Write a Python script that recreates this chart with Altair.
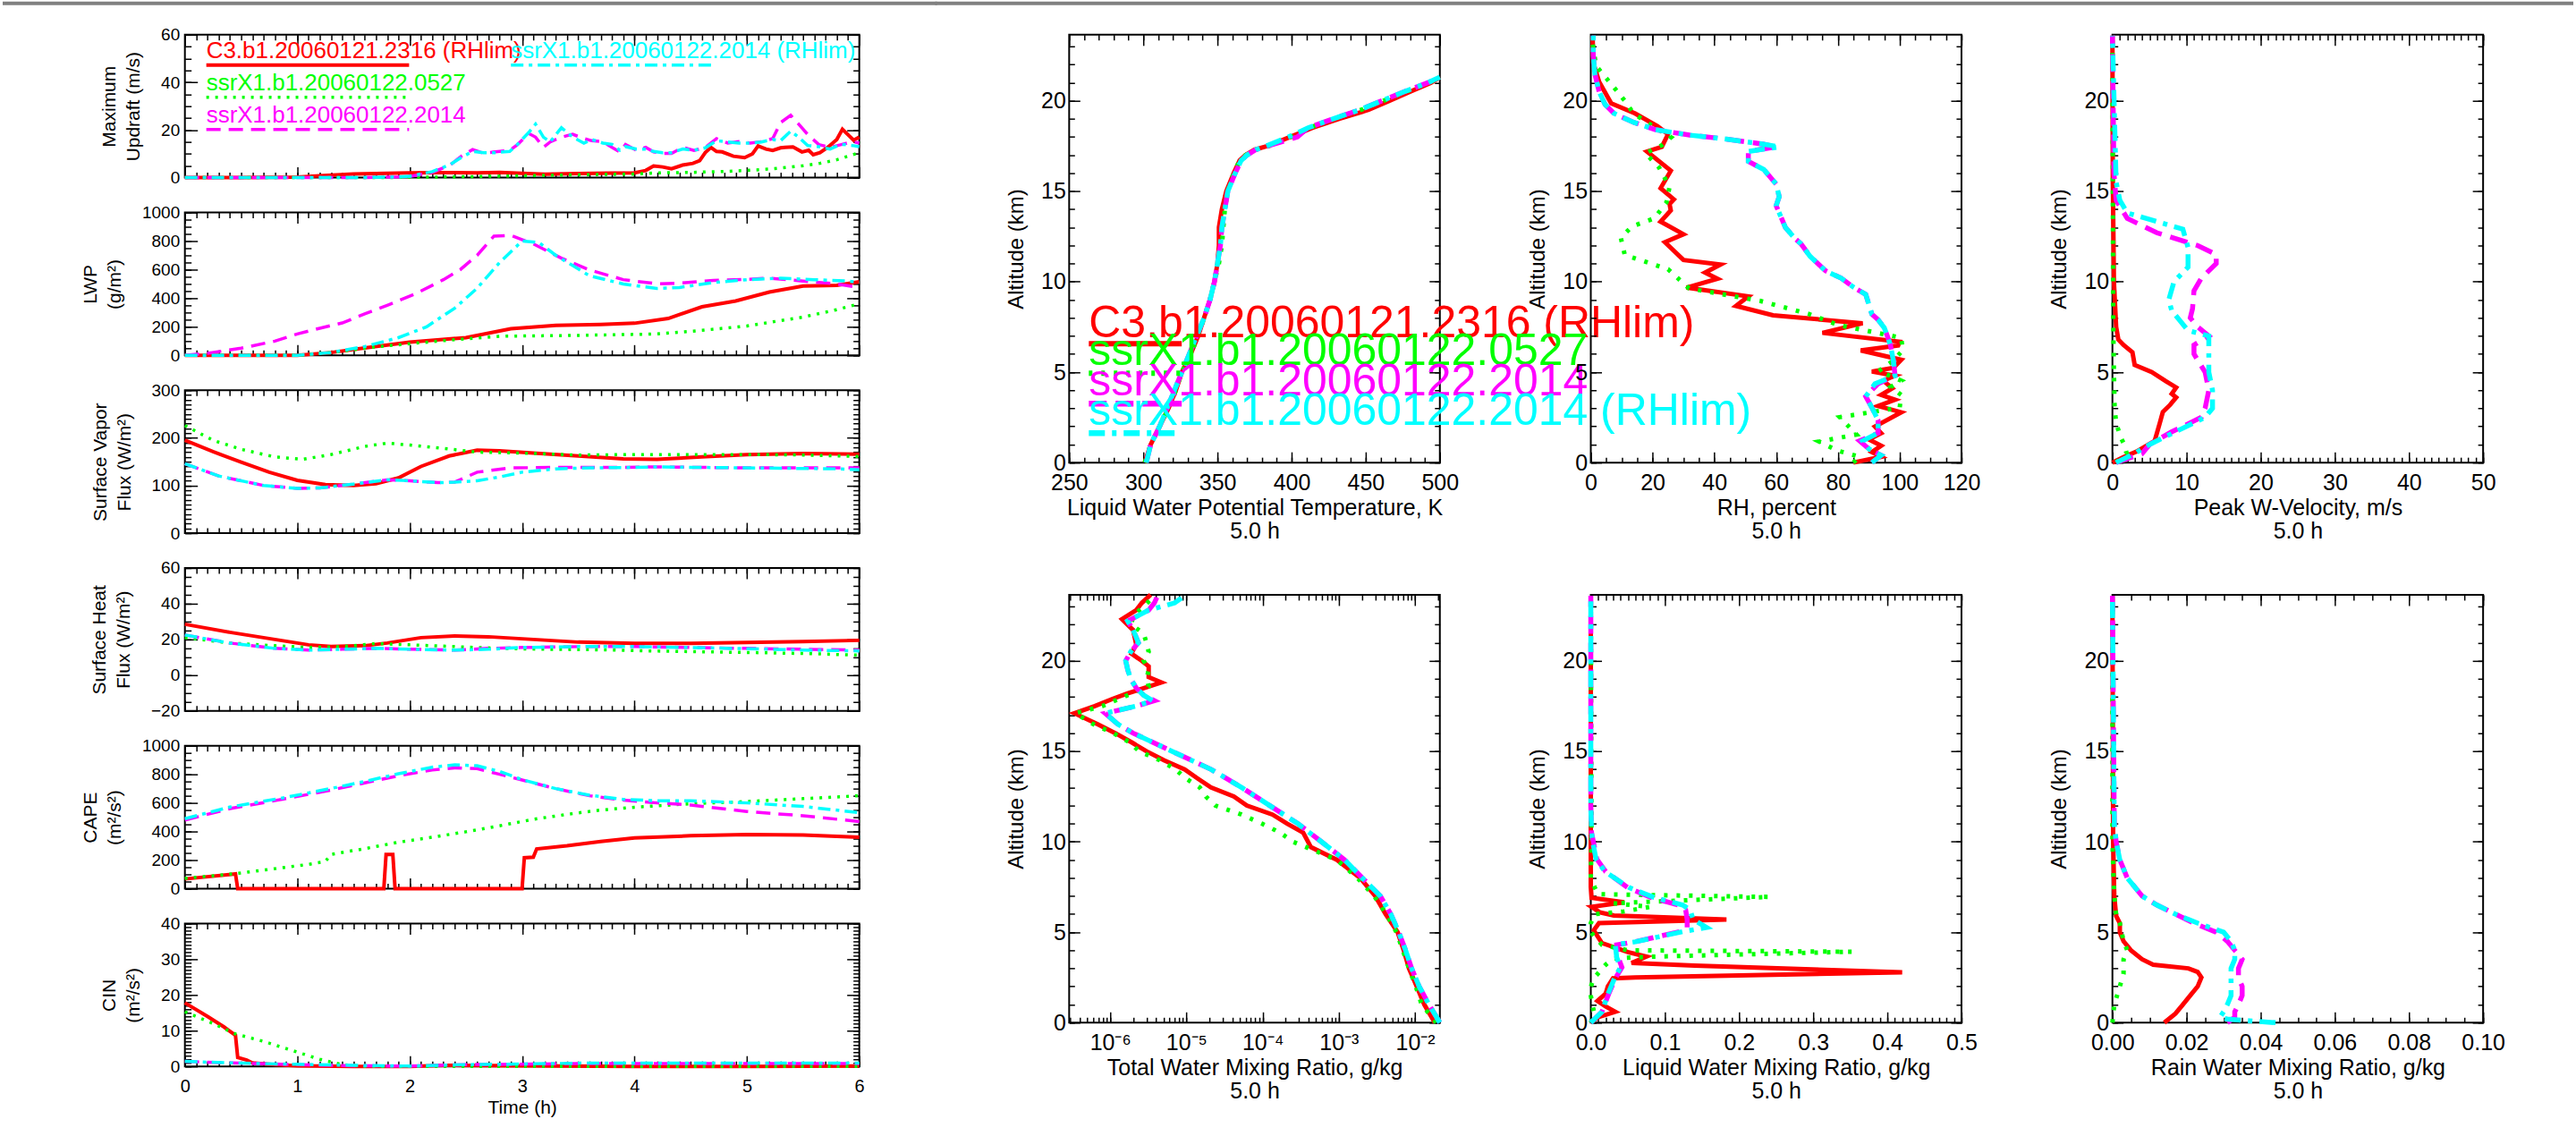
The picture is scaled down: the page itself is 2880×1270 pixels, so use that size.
import altair as alt
import pandas as pd

FONT = "Liberation Sans"
NAMES = ["C3.b1.20060121.2316 (RHlim)", "ssrX1.b1.20060122.0527",
         "ssrX1.b1.20060122.2014", "ssrX1.b1.20060122.2014 (RHlim)"]
COLORS = ["#ff0000", "#00ff00", "#ff00ff", "#00ffff"]

# ---------------- time series (time in hours) ----------------
UPD_T_RED = [0, 0.5, 1.0, 1.2, 1.5, 1.8, 2.0, 2.3, 2.6, 2.8, 3.0, 3.2, 3.5, 3.8, 4.0, 4.1, 4.17, 4.25, 4.33, 4.43,
             4.52, 4.58, 4.63, 4.68, 4.73, 4.78, 4.88, 4.98, 5.05, 5.1, 5.17, 5.23, 5.3, 5.34, 5.41, 5.49, 5.55,
             5.59, 5.65, 5.72, 5.8, 5.85, 5.9, 5.95, 6.0]
UPD_RED = [0, 0, 0.2, 0.8, 1.5, 1.8, 2.0, 2.1, 2.0, 2.2, 1.8, 1.4, 1.7, 1.9, 2.0, 3.0, 4.9, 4.5, 3.7, 5.3,
           6.0, 7.1, 10.5, 12.7, 11.0, 10.8, 9.0, 8.4, 10.0, 13.3, 12.0, 11.4, 12.5, 12.7, 12.9, 10.8, 11.5,
           9.6, 10.5, 12.7, 16.0, 20.3, 18.0, 15.7, 17.0]
UPD_T_GRN = [0, 1.5, 2.0, 2.5, 3.0, 3.5, 4.0, 4.2, 4.5, 4.8, 5.0, 5.2, 5.4, 5.5, 5.65, 5.8, 5.9, 6.0]
UPD_GRN = [0, 0, 0.1, 0.4, 0.8, 1.2, 1.5, 2.0, 2.2, 2.6, 3.0, 3.6, 4.5, 5.0, 6.0, 7.5, 9.0, 10.5]
UPD_T_MC = [0, 1.5, 1.9, 2.0, 2.2, 2.36, 2.46, 2.56, 2.66, 2.76, 2.89, 2.96, 3.06, 3.12, 3.19, 3.25, 3.35, 3.45,
            3.55, 3.62, 3.72, 3.8, 3.87, 3.92, 4.02, 4.1, 4.17, 4.25, 4.33, 4.43, 4.53, 4.63, 4.73, 4.83, 4.93,
            5.03, 5.13, 5.23, 5.3, 5.39, 5.46, 5.54, 5.64, 5.74, 5.84, 5.94, 6.0]
UPD_MAG = [0, 0, 0.3, 0.5, 2.2, 5.3, 9.0, 11.8, 10.2, 10.8, 11.4, 13.9, 18.5, 17.0, 12.7, 15.0, 17.0, 18.2,
           16.4, 15.5, 15.1, 12.7, 10.8, 13.9, 11.4, 12.7, 10.8, 10.2, 10.2, 12.7, 11.4, 12.7, 16.4, 14.5, 15.1,
           14.5, 15.1, 16.4, 23.1, 26.2, 22.5, 18.2, 13.9, 12.7, 13.9, 15.1, 14.5]
UPD_CYN = [0, 0, 0.3, 0.6, 2.5, 5.5, 8.5, 11.0, 10.5, 10.5, 11.0, 14.0, 19.0, 22.5, 17.0, 15.0, 21.0, 17.0,
           14.5, 16.0, 14.5, 14.0, 11.5, 13.0, 12.0, 12.0, 11.0, 10.5, 10.5, 12.0, 11.5, 12.5, 15.5, 15.0, 14.5,
           14.5, 15.0, 16.0, 15.5, 19.5, 17.0, 13.5, 13.0, 12.0, 14.0, 13.5, 13.0]

LWP_T_RED = [0, 1.0, 1.3, 1.6, 2.0, 2.5, 2.9, 3.3, 3.7, 4.0, 4.3, 4.6, 4.9, 5.2, 5.5, 5.8, 6.0]
LWP_RED = [0, 0, 20, 52, 93, 124, 186, 210, 216, 225, 258, 340, 381, 443, 485, 490, 515]
LWP_T_GRN = [0, 1.0, 1.3, 1.7, 2.3, 2.8, 3.5, 4.2, 4.6, 5.0, 5.5, 5.8, 6.0]
LWP_GRN = [0, 0, 20, 60, 103, 134, 140, 150, 175, 206, 268, 320, 361]
LWP_T_MAG = [0, 0.2, 0.5, 0.8, 1.0, 1.2, 1.4, 1.6, 1.8, 2.05, 2.3, 2.45, 2.6, 2.75, 2.9, 3.1, 3.35, 3.6, 3.9,
             4.2, 4.4, 4.7, 5.0, 5.2, 5.5, 5.8, 6.0]
LWP_MAG = [0, 15, 50, 100, 150, 190, 227, 290, 350, 430, 530, 600, 700, 835, 840, 780, 680, 598, 530,
           501, 505, 525, 532, 540, 520, 500, 474]
LWP_T_CYN = [0, 1.0, 1.3, 1.6, 1.9, 2.15, 2.4, 2.6, 2.8, 3.0, 3.15, 3.3, 3.6, 3.9, 4.2, 4.4, 4.7, 5.0, 5.3,
             5.6, 5.9, 6.0]
LWP_CYN = [0, 0, 20, 62, 124, 200, 330, 470, 650, 800, 790, 700, 557, 500, 468, 475, 510, 530, 540,
           530, 520, 510]

VAP_T_RED = [0, 0.25, 0.5, 0.75, 1.0, 1.25, 1.5, 1.7, 1.9, 2.1, 2.35, 2.6, 2.8, 3.1, 3.5, 3.9, 4.2, 4.6, 5.0, 5.5, 6.0]
VAP_RED = [195, 171, 149, 128, 111, 102, 100, 104, 116, 140, 162, 174, 173, 168, 162, 156, 155, 160, 165, 167, 166]
VAP_T_GRN = [0, 0.25, 0.5, 0.8, 1.05, 1.3, 1.6, 1.8, 2.0, 2.3, 2.6, 3.0, 3.5, 4.0, 4.5, 5.0, 5.5, 6.0]
VAP_GRN = [226, 195, 176, 160, 155, 165, 182, 189, 185, 178, 170, 168, 164, 165, 165, 165, 164, 161]
VAP_T_MAG = [0, 0.3, 0.7, 1.0, 1.2, 1.5, 1.8, 2.0, 2.25, 2.4, 2.6, 2.9, 3.3, 3.8, 4.2, 5.0, 6.0]
VAP_MAG = [146, 120, 100, 94, 95, 103, 112, 110, 106, 107, 128, 137, 138, 138, 139, 137, 137]
VAP_T_CYN = [0, 0.3, 0.7, 1.0, 1.2, 1.5, 1.8, 2.0, 2.25, 2.4, 2.6, 2.8, 3.0, 3.3, 3.6, 4.0, 4.2, 5.0, 5.8, 6.0]
VAP_CYN = [146, 120, 100, 94, 95, 103, 112, 110, 106, 107, 110, 118, 128, 135, 137, 138, 139, 137, 135, 133]

HFX_T_RED = [0, 0.4, 0.8, 1.1, 1.3, 1.6, 1.8, 2.1, 2.4, 2.7, 3.1, 3.5, 4.0, 4.5, 5.0, 5.5, 6.0]
HFX_RED = [28.5, 24, 20, 17, 16, 16.5, 18, 21, 22, 21.5, 20, 18.5, 17.8, 17.8, 18.3, 18.8, 19.5]
HFX_T_GRN = [0, 0.4, 0.8, 1.1, 1.4, 1.7, 2.0, 2.4, 2.8, 3.2, 3.7, 4.2, 4.7, 5.2, 5.6, 6.0]
HFX_GRN = [21, 18, 16.5, 15.5, 16, 17.7, 17, 16, 15, 14.5, 14.2, 13.5, 13, 12.5, 12, 11.2]
HFX_T_MC = [0, 0.4, 0.8, 1.1, 1.4, 1.7, 2.0, 2.4, 2.7, 3.0, 3.5, 4.0, 4.5, 5.0, 5.5, 6.0]
HFX_MAG = [22.5, 18, 15, 14, 14.5, 15, 14.5, 14, 15, 15.5, 16, 16, 15.5, 15, 14.5, 14]
HFX_CYN = [22.5, 18, 15, 14, 14.5, 15, 14.5, 14, 14.5, 15.5, 16, 16, 15.5, 14.8, 14, 13.6]

CAPE_T_RED = [0, 0.45, 0.47, 1.77, 1.79, 1.85, 1.87, 3.0, 3.02, 3.1, 3.13, 3.4, 3.7, 4.0, 4.5, 5.0, 5.5, 6.0]
CAPE_RED = [68, 103, 0, 0, 240, 240, 0, 0, 216, 220, 278, 300, 330, 355, 370, 378, 375, 360]
CAPE_T_GRN = [0, 0.45, 0.8, 1.1, 1.25, 1.3, 1.6, 1.9, 2.2, 2.5, 2.8, 3.1, 3.4, 3.7, 4.0, 4.5, 5.0, 5.5, 6.0]
CAPE_GRN = [72, 105, 140, 170, 190, 240, 280, 325, 360, 398, 440, 485, 520, 550, 570, 594, 610, 630, 650]
CAPE_T_MC = [0, 0.4, 0.9, 1.3, 1.6, 1.9, 2.2, 2.4, 2.6, 2.8, 3.0, 3.3, 3.6, 3.9, 4.2, 4.5, 5.0, 5.5, 6.0]
CAPE_MAG = [480, 560, 630, 690, 740, 790, 830, 845, 840, 800, 760, 700, 650, 620, 600, 585, 540, 510, 470]
CAPE_CYN = [490, 571, 639, 701, 750, 804, 850, 866, 860, 820, 763, 700, 654, 625, 615, 615, 600, 575, 532]

CIN_T_RED = [0, 0.2, 0.35, 0.45, 0.47, 0.55, 0.6, 0.8, 1.0, 1.5, 2.0, 2.3, 3.0, 4.0, 5.0, 6.0]
CIN_RED = [17.8, 14, 11, 8.7, 2.5, 1.8, 1.0, 0.5, 0.2, 0, 0, 0.3, 0.2, 0, 0, 0.1]
CIN_T_GRN = [0, 0.25, 0.45, 0.7, 0.95, 1.2, 1.4, 1.6, 2.0, 3.0, 4.0, 5.0, 6.0]
CIN_GRN = [15.3, 12, 9.1, 7, 4.5, 2, 0.5, 0, 0, 0, 0, 0, 0]
CIN_T_MC = [0, 0.5, 1.0, 1.5, 2.0, 2.5, 3.5, 6.0]
CIN_MAG = [1.4, 0.9, 0.5, 0.2, 0.1, 0.5, 0.8, 0.8]
CIN_CYN = [1.4, 0.9, 0.6, 0.3, 0.1, 0.5, 0.9, 0.9]

# ---------------- profiles at 5.0 h (altitude in km) ----------------
TH_ALT = [0, 1, 2, 3, 4, 5, 6, 7, 8, 9, 10, 11, 12, 13, 14, 15, 16, 16.7, 17.0, 17.3, 17.5, 18.0, 18.5,
          19.0, 19.5, 20.0, 20.5, 21.0, 21.3]
TH_RED = [301, 305, 311, 317, 322, 326, 332, 337, 341, 345, 348, 350, 351, 351, 353, 356, 361, 365, 369,
          375, 384, 399, 414, 432, 452, 466, 480, 494, 500]
TH_GRN = [301, 305, 311, 317, 322, 326, 332, 337, 341, 345, 348, 351, 353, 354, 355, 357, 361, 365, 369,
          376, 385, 400, 412, 428, 447, 462, 477, 493, 500]
TH_MAG = [302, 305, 311, 316, 321, 326, 331, 336, 341, 345, 348, 350, 352, 353, 355, 357, 362, 366, 370,
          376, 384, 404, 411, 428, 446, 461, 476, 492, 500]
TH_CYN = [302, 305, 311, 316, 321, 326, 331, 336, 341, 345, 348, 350, 352, 353, 355, 357, 362, 366, 370,
          376, 383, 398, 411, 428, 446, 461, 476, 492, 500]

RH_ALT_RED = [0, 0.32, 0.58, 0.93, 1.28, 1.63, 1.99, 2.78, 3.13, 3.48, 3.74, 4.1, 4.53, 4.8, 5.03, 5.24,
              5.68, 6.2, 6.47, 6.68, 7.17, 7.7, 8.14, 8.66, 9.19, 9.67, 10.16, 10.5, 10.95, 11.2, 12.18,
              12.62, 13.32, 13.94, 14.29, 14.55, 15.17, 16.13, 17.19, 17.45, 18.15, 18.59, 19.3, 19.86,
              21.05, 22.1, 23.5]
RH_RED = [85, 94, 91, 94, 90, 94, 92, 100.5, 93, 98.5, 94, 97.6, 94.7, 98.5, 91, 98, 100.5, 87.4, 99.5,
          100, 75, 88, 59, 47, 51, 31, 41, 37, 42, 30, 24, 30, 22.6, 25.9, 25.5, 26.9, 22.6, 25.9, 18.2,
          23, 25, 21.6, 14.3, 6.6, 2.7, 0.8, 0.6]
RH_ALT_GRN = [0, 0.32, 0.67, 1.16, 1.55, 2.51, 3.04, 3.74, 4.18, 4.53, 5.06, 5.59, 6.2, 6.9, 7.6, 8.22,
              8.93, 9.63, 10.69, 11.48, 12.44, 13.06, 13.5, 14.38, 15.25, 16.31, 17.1, 17.54, 17.98, 18.6,
              19.3, 19.91, 20.53, 21.23, 21.93, 23.5]
RH_GRN = [85, 87, 79.7, 73.9, 86, 80.6, 100, 100.5, 97.1, 100.5, 93.2, 97.6, 101, 100.5, 80.2, 70.5, 55,
          31.8, 25, 11, 9.7, 13.4, 20.6, 24.5, 25.5, 22.1, 17.7, 23, 26, 20.1, 13.8, 11.4, 8.5, 5.1, 1.7, 0.3]
RH_ALT_MC = [0, 0.4, 0.76, 1.2, 1.63, 2.34, 3.04, 3.66, 4.36, 4.8, 5.6, 6.5, 7.0, 7.45, 7.9, 8.2, 8.75,
             9.3, 9.7, 10.2, 10.6, 11.4, 12.1, 12.4, 13.0, 14.2, 14.7, 15.4, 16.2, 16.65, 17.2, 17.45, 17.6,
             17.9, 18.1, 18.4, 18.8, 19.3, 19.8, 20.5, 21.5, 22.5, 23.6]
RH_MAG = [91, 94, 90, 87, 93, 93, 91, 89, 93, 98.5, 98, 97, 96, 95, 93, 91, 90, 89, 85, 81, 76, 71, 68,
          66, 63, 60, 61, 60, 56, 51, 51, 60, 56, 43, 32, 21, 14, 7.5, 4.6, 2.7, 1.3, 0.8, 0.8]
RH_CYN = [91, 94, 90, 88, 93, 93, 91, 89, 92, 98.5, 98, 97, 96, 95, 93, 91, 90, 89, 85, 81, 76, 71, 68,
          66, 63, 60, 61, 60, 56, 51, 51, 61, 56, 43, 32, 21, 14, 7.5, 4.6, 2.7, 1.3, 0.8, 0.8]

W_ALT_RED = [0, 0.3, 0.64, 1.2, 2.2, 2.8, 3.2, 3.6, 3.8, 4.15, 4.5, 5.0, 5.4, 6.1, 6.5, 6.8, 7.5, 10,
             15.8, 23.6]
W_RED = [0, 1.5, 3.4, 5.7, 6.4, 6.8, 7.8, 8.6, 8.0, 8.6, 7.2, 5.3, 3.0, 2.7, 1.5, 0.8, 0.5, 0.2, 0.05, 0.0]
W_ALT_GRN = [0, 0.55, 1.0, 1.4, 2.2, 3.0, 5.0, 8.0, 23.6]
W_GRN = [0.5, 1.9, 1.6, 1.1, 0.5, 0.3, 0.2, 0.1, 0.0]
W_ALT_MAG = [0, 0.5, 1.0, 1.7, 2.5, 3.0, 4.0, 5.0, 6.0, 6.5, 7.0, 7.5, 8.0, 8.5, 9.5, 10.2, 11.0, 11.5,
             12.0, 12.7, 13.5, 14.5, 16, 23.6]
W_MAG = [0.5, 4, 5, 8, 12, 12.5, 13, 12.5, 11, 11, 13, 11.5, 10.5, 10.8, 11, 12, 14, 14, 11.5, 6, 2, 0.5,
         0.2, 0]
W_ALT_CYN = [0, 0.5, 1.0, 1.7, 2.5, 3.0, 4.0, 5.0, 6.0, 7.0, 7.3, 8.4, 9.0, 10.0, 10.8, 11.9, 12.9, 13.8,
             14.5, 15.5, 23.6]
W_CYN = [0.5, 3, 5, 8.5, 12.5, 13.5, 13.5, 13, 13, 13, 10.2, 8.0, 7.6, 8.3, 10.2, 10.2, 9.5, 2, 1, 0.5, 0]

TW_ALT_RED = [0, 1, 2, 3, 4, 5, 6, 7, 8, 9, 9.7, 10.5, 11.0, 11.5, 12.0, 12.5, 13.0, 13.5, 14.0, 14.5,
              15.0, 15.5, 16.0, 16.5, 17.1, 17.5, 17.9, 18.2, 18.8, 19.1, 19.7, 20.0, 20.4, 20.9, 21.7,
              22.3, 22.8, 23.2, 23.65]
TW_RED = [0.0181, 0.0132, 0.0105, 0.0083, 0.0071, 0.0059, 0.0041, 0.0030, 0.0019, 9.4e-4, 4.3e-4, 3.4e-4,
          2.1e-4, 1.35e-4, 6.2e-5, 4.2e-5, 2.1e-5, 1.4e-5, 9.5e-6, 5.1e-6, 3.0e-6, 1.9e-6, 1.17e-6, 6.8e-7,
          3.4e-7, 6.3e-7, 1.08e-6, 1.7e-6, 4.7e-6, 3.2e-6, 3.2e-6, 2.6e-6, 1.9e-6, 2.2e-6, 2.0e-6, 1.43e-6,
          2.2e-6, 2.6e-6, 3.4e-6]
TW_ALT_GRN = [0, 1, 2, 3, 4, 5, 6, 7, 8, 9, 10, 10.5, 11, 11.5, 12, 12.5, 13, 13.5, 14, 14.5, 15, 15.5,
              16, 16.5, 17.1, 17.5, 18, 18.6, 19, 19.5, 20, 20.5, 21, 21.5, 22, 22.5, 23, 23.6]
TW_GRN = [0.0189, 0.0122, 0.0102, 0.0083, 0.0069, 0.0057, 0.0042, 0.0029, 0.00175, 9.4e-4, 2.5e-4, 1.7e-4,
          9.8e-5, 5.3e-5, 2.4e-5, 1.8e-5, 1.5e-5, 9.8e-6, 7.2e-6, 4.5e-6, 2.4e-6, 1.8e-6, 1.1e-6, 6.0e-7,
          3.5e-7, 7.9e-7, 1.5e-6, 3.2e-6, 3.0e-6, 3.2e-6, 2.75e-6, 3.2e-6, 3.0e-6, 2.75e-6, 1.9e-6, 2.0e-6,
          2.75e-6, 3.8e-6]
TW_ALT_MC = [0, 1, 2, 3, 4, 5, 6, 7, 8, 9, 10, 11, 12, 13, 14, 15, 16, 16.5, 17.1, 17.5, 17.8, 18.1, 18.5,
             19.0, 19.5, 20.0, 20.5, 21.0, 21.7, 22.2, 22.8, 23.2, 23.6]
TW_MAG = [0.0211, 0.0152, 0.0113, 0.0090, 0.0075, 0.0061, 0.0048, 0.0035, 0.00203, 0.00119, 5.9e-4, 2.9e-4,
          1.24e-4, 5.3e-5, 2.1e-5, 6.5e-6, 2.0e-6, 1.26e-6, 8.6e-7, 2.2e-6, 3.8e-6, 2.75e-6, 2.2e-6, 1.86e-6,
          1.7e-6, 1.6e-6, 1.86e-6, 2.35e-6, 2.0e-6, 1.7e-6, 3.2e-6, 3.8e-6, 4.2e-6]
TW_CYN = [0.0211, 0.0152, 0.0113, 0.0090, 0.0075, 0.0061, 0.0048, 0.0035, 0.00203, 0.00119, 5.9e-4, 2.9e-4,
          1.24e-4, 5.3e-5, 2.1e-5, 6.5e-6, 2.0e-6, 1.26e-6, 8.6e-7, 2.2e-6, 3.6e-6, 2.75e-6, 2.2e-6, 1.86e-6,
          1.7e-6, 1.6e-6, 1.86e-6, 2.35e-6, 2.0e-6, 1.7e-6, 3.2e-6, 7.0e-6, 9.5e-6]

LW_ALT_RED = [0, 0.3, 0.6, 0.9, 1.2, 1.6, 2.0, 2.45, 2.5, 2.78, 3.15, 3.3, 3.65, 3.9, 4.4, 5.1, 5.5, 5.7,
              5.92, 6.1, 6.4, 6.65, 6.9, 7.5, 23.6]
LW_RED = [0, 0.01, 0.033, 0.02, 0.009, 0.02, 0.023, 0.03, 0.06, 0.42, 0.14, 0.055, 0.075, 0.05, 0.015,
          0.004, 0.011, 0.183, 0.031, 0.012, 0.001, 0.045, 0.001, 0.0, 0.0]
LW_ALT_GRN = [0, 0.5, 1.0, 1.5, 2.0, 2.5, 3.2, 3.55, 3.65, 3.92, 4.0, 4.3, 5.0, 5.5, 6.0, 6.15, 6.4, 6.6,
              6.95, 7.1, 7.5, 8.0, 10, 23.6]
LW_GRN = [0, 0.005, 0.002, 0.0, 0.0, 0.005, 0.02, 0.03, 0.085, 0.352, 0.05, 0.015, 0.0, 0.0, 0.005, 0.045,
          0.08, 0.03, 0.241, 0.01, 0.005, 0.0, 0.001, 0.0]
LW_ALT_MC = [0, 0.6, 1.57, 2.45, 3.06, 3.6, 4.3, 4.47, 5.03, 5.26, 5.7, 6.23, 6.5, 6.94, 7.46, 8.35, 9.05,
             9.9, 10.5, 12, 23.6]
LW_MAG = [0, 0.015, 0.024, 0.033, 0.042, 0.037, 0.035, 0.06, 0.12, 0.13, 0.13, 0.128, 0.118, 0.08, 0.05,
          0.02, 0.008, 0.004, 0.001, 0.0, 0.0]
LW_CYN = [0, 0.015, 0.023, 0.032, 0.04, 0.035, 0.033, 0.06, 0.124, 0.156, 0.138, 0.134, 0.124, 0.084,
          0.052, 0.019, 0.007, 0.003, 0.001, 0.0, 0.0]

RW_ALT_RED = [0, 0.5, 1.0, 1.5, 2.0, 2.5, 2.8, 3.0, 3.2, 3.5, 4.0, 4.5, 5.0, 5.5, 5.9, 7, 10, 23.6]
RW_RED = [0.014, 0.017, 0.019, 0.021, 0.023, 0.024, 0.023, 0.0205, 0.011, 0.008, 0.005, 0.003, 0.002,
          0.002, 0.001, 0.0005, 0.0002, 0.0]
RW_ALT_GRN = [0, 1, 2, 2.7, 3.5, 4.0, 4.5, 5.5, 6, 7, 8, 10, 23.6]
RW_GRN = [0.0, 0.0005, 0.002, 0.003, 0.003, 0.004, 0.003, 0.002, 0.001, 0.0005, 0.0003, 0.0, 0.0]
RW_ALT_MAG = [0, 0.3, 0.6, 1.0, 1.5, 2.0, 2.5, 3.0, 3.5, 4.0, 4.5, 5.0, 5.5, 6.0, 6.5, 7.0, 7.5, 8.0, 8.5,
              9.0, 10.0, 11, 23.6]
RW_MAG = [0.031, 0.033, 0.033, 0.034, 0.035, 0.035, 0.034, 0.034, 0.035, 0.033, 0.031, 0.028, 0.022, 0.017,
          0.012, 0.008, 0.006, 0.004, 0.003, 0.002, 0.001, 0.0005, 0.0]
RW_ALT_CYN = [0, 0.1, 0.2, 0.3, 0.6, 1.0, 1.5, 2.0, 2.5, 3.0, 3.5, 4.0, 4.5, 5.0, 5.5, 6.0, 6.5, 7.0, 7.5,
              8.0, 8.5, 9.0, 10.0, 11, 23.6]
RW_CYN = [0.044, 0.037, 0.031, 0.029, 0.03, 0.031, 0.032, 0.032, 0.032, 0.032, 0.033, 0.033, 0.032, 0.03,
          0.023, 0.017, 0.012, 0.008, 0.006, 0.004, 0.003, 0.002, 0.001, 0.0005, 0.0]

# ---------------- tick values ----------------
T_MAJ = [0, 1, 2, 3, 4, 5, 6]
T_MIN = [round(i * 0.1, 1) for i in range(61)]
ALT_MAJ = [0, 5, 10, 15, 20]
ALT_MIN = list(range(0, 24))
LOG_MAJ = [1e-6, 1e-5, 1e-4, 1e-3, 1e-2]
LOG_MIN = [m * 10.0 ** e for e in range(-7, -1) for m in range(1, 10) if 2.9e-7 <= m * 10.0 ** e <= 2.11e-2]

LEFT_STYLE = [{"strokeWidth": 4}, {"strokeWidth": 3.5, "strokeDash": [3, 7]},
              {"strokeWidth": 3.5, "strokeDash": [16, 9]}, {"strokeWidth": 3.5, "strokeDash": [14, 6, 4, 6]}]
RIGHT_STYLE = [{"strokeWidth": 5}, {"strokeWidth": 5, "strokeDash": [4, 10]},
               {"strokeWidth": 5.5, "strokeDash": [20, 10]}, {"strokeWidth": 5.5, "strokeDash": [18, 8, 5, 8]}]


def tick_axis(orient, values, size):
    return alt.Axis(orient=orient, values=values, tickSize=size, offset=-size, domain=False, grid=False,
                    labels=False, title=None, tickColor="black", tickWidth=1.5)


def main_axis(orient, values, size, labels, title, lsize, tsize, lpad, tpad, lh, fmt=None, expr=None):
    kw = dict(orient=orient, values=values, tickSize=size, offset=-size, domain=False, grid=False,
              labels=labels, title=title, tickColor="black", tickWidth=1.5, labelFontSize=lsize,
              titleFontSize=tsize, labelPadding=lpad, titlePadding=tpad, labelFlush=False,
              labelOverlap=False, titleLineHeight=lh, labelFont=FONT, titleFont=FONT,
              titleFontWeight="normal", labelColor="black", titleColor="black")
    if fmt is not None:
        kw["format"] = fmt
    if expr is not None:
        kw["labelExpr"] = expr
    return alt.Axis(**kw)


def panel(series, xdom, ydom, xaxes, yaxes, w, h, style, xtype="linear", profile=False, extra=()):
    xsc = alt.Scale(domain=xdom, nice=False, zero=False, type=xtype)
    ysc = alt.Scale(domain=ydom, nice=False, zero=False)
    layers = []
    for k, (xs, ys) in enumerate(series):
        df = pd.DataFrame({"x": xs, "y": ys, "i": list(range(len(xs)))})
        enc = {"x": alt.X("x:Q", scale=xsc, axis=xaxes[k]), "y": alt.Y("y:Q", scale=ysc, axis=yaxes[k])}
        if profile:
            enc["order"] = alt.Order("i:Q")
        layers.append(alt.Chart(df).mark_line(color=COLORS[k], **style[k]).encode(**enc))
    return (alt.layer(*layers, *extra)
            .resolve_axis(x="independent", y="independent")
            .properties(width=w, height=h))


LW, LH = 755, 160
RW, RH = 415, 479


def left_panel(series, ydom, ymaj, ymin, ytitle, bottom=False, extra=()):
    xaxes = [main_axis("bottom", T_MAJ, 12, bottom, "Time (h)" if bottom else None, 20, 21, 12, 3, 24, fmt="d"),
             tick_axis("top", T_MAJ, 12), tick_axis("bottom", T_MIN, 6), tick_axis("top", T_MIN, 6)]
    yaxes = [main_axis("left", ymaj, 14, True, ytitle, 19, 21, 6, 20, 27, fmt="d"),
             tick_axis("right", ymaj, 14), tick_axis("left", ymin, 7), tick_axis("right", ymin, 7)]
    return panel(series, [0, 6], ydom, xaxes, yaxes, LW, LH, LEFT_STYLE, extra=extra)


def right_panel(series, xdom, xmaj, xmin, xtitle, xtype="linear", fmt=None, expr=None, extra=()):
    xaxes = [main_axis("bottom", xmaj, 12, True, [xtitle, "5.0 h"], 25, 25, 10, 3, 26, fmt=fmt, expr=expr),
             tick_axis("top", xmaj, 12), tick_axis("bottom", xmin, 6), tick_axis("top", xmin, 6)]
    yaxes = [main_axis("left", ALT_MAJ, 12, True, "Altitude (km)", 25, 24, 4, 15, 26, fmt="d"),
             tick_axis("right", ALT_MAJ, 12), tick_axis("left", ALT_MIN, 6), tick_axis("right", ALT_MIN, 6)]
    return panel(series, xdom, [0, 23.65], xaxes, yaxes, RW, RH, RIGHT_STYLE, xtype=xtype, profile=True,
                 extra=extra)


def legend_layers(positions, fsize, style_list, width_scale):
    out = []
    for k, (tx, ty, x1, x2, ly) in enumerate(positions):
        lab = pd.DataFrame({"label": [NAMES[k]]})
        out.append(alt.Chart(lab).mark_text(align="left", baseline="alphabetic", font=FONT, fontSize=fsize,
                                            color=COLORS[k])
                   .encode(text="label:N", x=alt.value(tx), y=alt.value(ty)))
        st = dict(style_list[k])
        st["strokeWidth"] = st["strokeWidth"] * width_scale
        out.append(alt.Chart(lab).mark_rule(color=COLORS[k], **st)
                   .encode(x=alt.value(x1), x2=alt.value(x2), y=alt.value(ly)))
    return out


def gray_bar(x1, x2):
    return alt.Chart(pd.DataFrame({"label": ["frame"]})).mark_rule(color="#808080", strokeWidth=4).encode(
        x=alt.value(x1), x2=alt.value(x2), y=alt.value(-35))


small_leg = legend_layers([(24, 26, 24, 251, 34), (24, 62, 24, 251, 70), (24, 98, 24, 251, 106),
                           (365, 26, 365, 591, 34)], 26, LEFT_STYLE, 1.0)
big_leg = legend_layers([(22, 339, 22, 126, 346), (22, 370, 22, 126, 379), (22, 404, 22, 126, 413),
                         (22, 437, 22, 126, 446)], 50, RIGHT_STYLE, 1.2)

p1 = left_panel([(UPD_T_RED, UPD_RED), (UPD_T_GRN, UPD_GRN), (UPD_T_MC, UPD_MAG), (UPD_T_MC, UPD_CYN)],
                [0, 60], [0, 20, 40, 60], list(range(0, 61, 5)), ["Maximum", "Updraft (m/s)"],
                extra=[gray_bar(-204, 842)] + small_leg)
p2 = left_panel([(LWP_T_RED, LWP_RED), (LWP_T_GRN, LWP_GRN), (LWP_T_MAG, LWP_MAG), (LWP_T_CYN, LWP_CYN)],
                [0, 1000], [0, 200, 400, 600, 800, 1000], list(range(0, 1001, 50)), ["LWP", "(g/m²)"])
p3 = left_panel([(VAP_T_RED, VAP_RED), (VAP_T_GRN, VAP_GRN), (VAP_T_MAG, VAP_MAG), (VAP_T_CYN, VAP_CYN)],
                [0, 300], [0, 100, 200, 300], list(range(0, 301, 10)), ["Surface Vapor", "Flux (W/m²)"])
p4 = left_panel([(HFX_T_RED, HFX_RED), (HFX_T_GRN, HFX_GRN), (HFX_T_MC, HFX_MAG), (HFX_T_MC, HFX_CYN)],
                [-20, 60], [-20, 0, 20, 40, 60], list(range(-20, 61, 5)), ["Surface Heat", "Flux (W/m²)"])
p5 = left_panel([(CAPE_T_RED, CAPE_RED), (CAPE_T_GRN, CAPE_GRN), (CAPE_T_MC, CAPE_MAG), (CAPE_T_MC, CAPE_CYN)],
                [0, 1000], [0, 200, 400, 600, 800, 1000], list(range(0, 1001, 50)), ["CAPE", "(m²/s²)"])
p6 = left_panel([(CIN_T_RED, CIN_RED), (CIN_T_GRN, CIN_GRN), (CIN_T_MC, CIN_MAG), (CIN_T_MC, CIN_CYN)],
                [0, 40], [0, 10, 20, 30, 40], list(range(0, 41, 1)), ["CIN", "(m²/s²)"], bottom=True)

r1 = right_panel([(TH_RED, TH_ALT), (TH_GRN, TH_ALT), (TH_MAG, TH_ALT), (TH_CYN, TH_ALT)],
                 [250, 500], list(range(250, 501, 50)), list(range(250, 501, 10)),
                 "Liquid Water Potential Temperature, K", fmt="d", extra=[gray_bar(-150, 1684)] + big_leg)
r2 = right_panel([(RH_RED, RH_ALT_RED), (RH_GRN, RH_ALT_GRN), (RH_MAG, RH_ALT_MC), (RH_CYN, RH_ALT_MC)],
                 [0, 120], list(range(0, 121, 20)), list(range(0, 121, 5)), "RH, percent", fmt="d")
r3 = right_panel([(W_RED, W_ALT_RED), (W_GRN, W_ALT_GRN), (W_MAG, W_ALT_MAG), (W_CYN, W_ALT_CYN)],
                 [0, 50], list(range(0, 51, 10)), list(range(0, 51, 1)), "Peak W-Velocity, m/s", fmt="d")
r4 = right_panel([(TW_RED, TW_ALT_RED), (TW_GRN, TW_ALT_GRN), (TW_MAG, TW_ALT_MC), (TW_CYN, TW_ALT_MC)],
                 [2.9e-7, 2.11e-2], LOG_MAJ, LOG_MIN, "Total Water Mixing Ratio, g/kg", xtype="log",
                 expr="datum.value < 3e-6 ? '10⁻⁶' : datum.value < 3e-5 ? '10⁻⁵' : datum.value < 3e-4 ? '10⁻⁴' : datum.value < 3e-3 ? '10⁻³' : '10⁻²'")
r5 = right_panel([(LW_RED, LW_ALT_RED), (LW_GRN, LW_ALT_GRN), (LW_MAG, LW_ALT_MC), (LW_CYN, LW_ALT_MC)],
                 [0, 0.5], [0, 0.1, 0.2, 0.3, 0.4, 0.5], [round(i * 0.01, 2) for i in range(51)],
                 "Liquid Water Mixing Ratio, g/kg", fmt=".1f")
r6 = right_panel([(RW_RED, RW_ALT_RED), (RW_GRN, RW_ALT_GRN), (RW_MAG, RW_ALT_MAG), (RW_CYN, RW_ALT_CYN)],
                 [0, 0.1], [0, 0.02, 0.04, 0.06, 0.08, 0.1], [round(i * 0.005, 3) for i in range(21)],
                 "Rain Water Mixing Ratio, g/kg", fmt=".2f")

left = alt.vconcat(p1, p2, p3, p4, p5, p6, spacing=39, bounds="flush")
right = alt.concat(r1, r2, r3, r4, r5, r6, columns=3, spacing={"row": 148, "column": 169}, bounds="flush")

chart = (alt.hconcat(left, right, spacing=-8)
         .properties(padding={"left": 0, "top": 0, "right": 0, "bottom": 0}, background="white")
         .configure_view(stroke="black", strokeWidth=2)
         .configure_axis(labelFont=FONT, titleFont=FONT, titleFontWeight="normal"))

chart.save("out.html", embed_options={"renderer": "svg", "actions": False})
